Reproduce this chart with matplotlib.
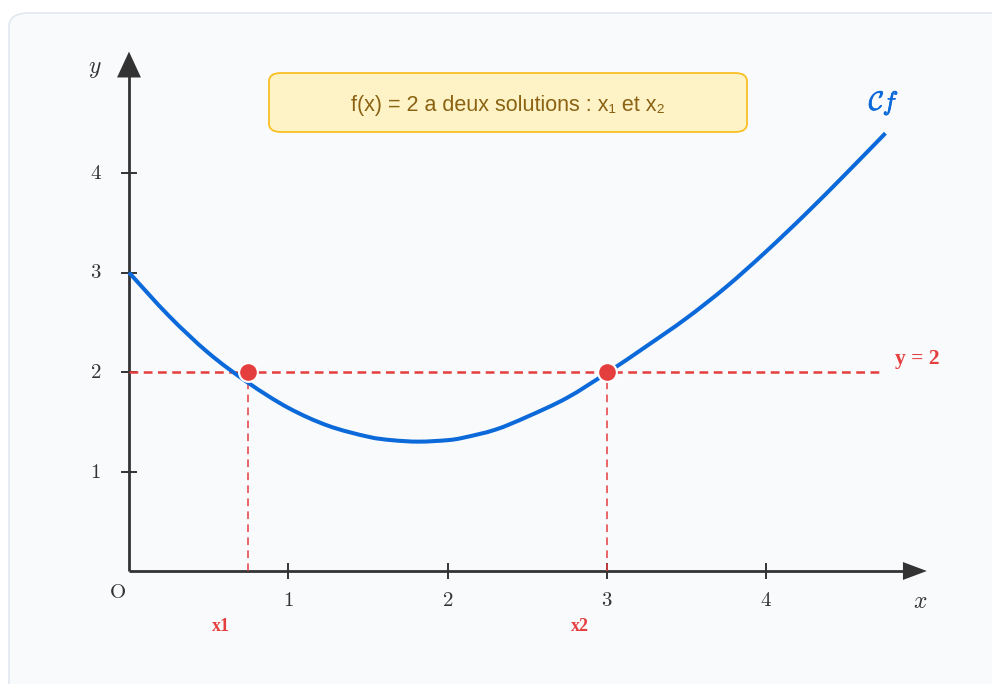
import numpy as np
import matplotlib.pyplot as plt
from matplotlib.patches import FancyBboxPatch, Polygon, PathPatch
from matplotlib.path import Path
import matplotlib.patheffects as pe

plt.rcParams['mathtext.fontset'] = 'cm'

# curve Cf
curve_x = [0.0, 0.25, 0.5, 0.75, 1.0, 1.25, 1.5, 1.65, 1.82, 2.0, 2.1, 2.3, 2.5, 2.75,
           3.0, 3.25, 3.5, 3.75, 4.0, 4.25, 4.5, 4.75]
curve_y = [3.00, 2.565, 2.19, 1.89, 1.64, 1.46, 1.35, 1.315, 1.30, 1.315, 1.34, 1.42, 1.55,
           1.74, 1.99, 2.26, 2.54, 2.855, 3.21, 3.59, 3.99, 4.40]

level = 2
solutions = [0.75, 3]
sol_labels = ['x1', 'x2']
ticks = [1, 2, 3, 4]

W, H = 992, 684
fig = plt.figure(figsize=(W / 100, H / 100), dpi=100)
fig.patch.set_facecolor('white')

# card behind the chart
card = FancyBboxPatch((9 / W, -0.1), 1.2, (H - 13) / H + 0.1,
                      boxstyle='round,pad=0,rounding_size=0.02',
                      transform=fig.transFigure, fc='#f8fafc', ec='#e2e8f0', lw=1.2,
                      zorder=-5)
fig.patches.append(card)

# axes fills the figure; origin at pixel (129, 571), 159.25 px per x unit, 99.5 px per y unit
ax = fig.add_axes([0, 0, 1, 1])
ax.set_xlim(-129 / 159.25, (W - 129) / 159.25)
ax.set_ylim((571 - H) / 99.5, 571 / 99.5)
ax.axis('off')
ax.patch.set_alpha(0)

axis_col = '#333333'
red = '#e53e3e'
blue = '#0b69d9'

# axes with arrows
ax.plot([0, 4.88], [0, 0], color=axis_col, lw=2, solid_capstyle='butt', zorder=2)
ax.plot([0, 0], [0, 5.0], color=axis_col, lw=2, solid_capstyle='butt', zorder=2)
ax.add_patch(Polygon([[4.86, 0.09], [5.01, 0], [4.86, -0.09]], closed=True,
                     fc=axis_col, ec='none', zorder=2))
ax.add_patch(Polygon([[-0.075, 4.96], [0, 5.22], [0.075, 4.96]], closed=True,
                     fc=axis_col, ec='none', zorder=2))

for t in ticks:
    ax.plot([t, t], [-0.075, 0.075], color=axis_col, lw=1.4, zorder=2)
    ax.plot([-0.045, 0.045], [t, t], color=axis_col, lw=1.4, zorder=2)
    ax.text(t, -0.29, f'${t}$', ha='center', va='center', fontsize=15, color=axis_col)
    ax.text(-0.21, t, f'${t}$', ha='center', va='center', fontsize=15, color=axis_col)

ax.text(-0.07, -0.21, r'$\mathrm{O}$', ha='center', va='center', fontsize=15, color=axis_col)
ax.text(4.97, -0.30, r'$x$', ha='center', va='center', fontsize=17, color=axis_col)
ax.text(-0.215, 5.06, r'$y$', ha='center', va='center', fontsize=17, color=axis_col)

# y = 2 line and projections
ax.plot([0, 4.72], [level, level], color=red, lw=1.8, dashes=(3.5, 2.2), zorder=3)
ax.text(4.81, level + 0.13, 'y = 2', ha='left', va='center', fontsize=15.5,
        family='Liberation Serif', weight='bold', color=red)
for xs, lab in zip(solutions, sol_labels):
    ax.plot([xs, xs], [0, level], color=red, lw=1.1, dashes=(5, 3.5), zorder=3)
    ax.text(xs - 0.17, -0.56, lab, ha='center', va='center', fontsize=13,
            family='Liberation Serif', weight='bold', color=red)

# the curve, drawn as a smooth path through the read points
pts = np.column_stack([curve_x, curve_y])
verts = [pts[0]]
codes = [Path.MOVETO]
for i in range(len(pts) - 1):
    p0 = pts[max(i - 1, 0)]
    p1, p2 = pts[i], pts[i + 1]
    p3 = pts[min(i + 2, len(pts) - 1)]
    verts += [p1 + (p2 - p0) / 6, p2 - (p3 - p1) / 6, p2]
    codes += [Path.CURVE4] * 3
ax.add_patch(PathPatch(Path(verts, codes), fc='none', ec=blue, lw=2.9, capstyle='butt',
                       zorder=4))
ax.text(4.74, 4.71, r'$\mathcal{C}f$', ha='center', va='center', fontsize=19, color=blue,
        path_effects=[pe.withStroke(linewidth=0.5, foreground=blue)])

# intersection points
ax.plot(solutions, [level] * len(solutions), 'o', ms=13.5, mfc=red, mec='white', mew=1.5,
        zorder=5)

# info box
box = FancyBboxPatch((269 / W, 1 - 132 / H), (747 - 269) / W, (132 - 73) / H,
                     boxstyle='round,pad=0,rounding_size=0.012', transform=fig.transFigure,
                     fc='#fef3c7', ec='#fbbf24', lw=1.3, zorder=6)
fig.patches.append(box)
fig.text(508 / W, 1 - 105.5 / H, 'f(x) = 2 a deux solutions : x\u2081 et x\u2082',
         ha='center', va='center', fontsize=15.5, color='#8a6212',
         family=['Liberation Sans', 'DejaVu Sans'], zorder=7)

fig.savefig('out.png', dpi=100)
